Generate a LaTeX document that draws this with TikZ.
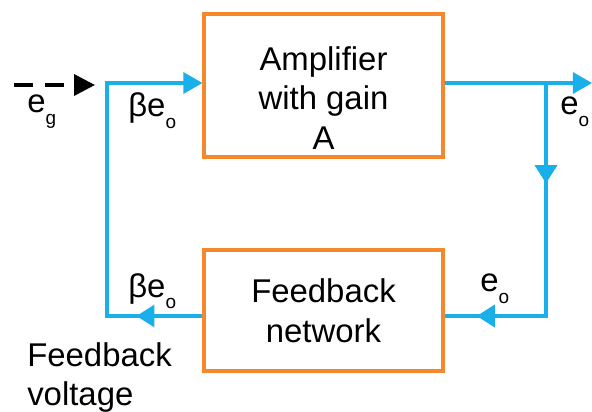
\documentclass[tikz,border=0pt]{standalone}
\usepackage{fontspec}
\setmainfont{Liberation Sans}
\usetikzlibrary{arrows.meta,decorations.markings}

\definecolor{boxorange}{RGB}{245,135,45}
\definecolor{loopblue}{RGB}{25,175,235}

\newcommand{\mainsize}{\fontsize{23.4}{28.1}\selectfont}
\newcommand{\lowidx}[1]{\raisebox{-0.34em}{\fontsize{13.5}{13.5}\selectfont #1}}

\begin{document}
\begin{tikzpicture}[
  x=0.25mm, y=-0.25mm,
  block/.style={rectangle, draw=boxorange, line width=2.2pt,
                minimum width=5.975cm, inner sep=0pt, align=center, font=\mainsize},
  flow/.style={draw=loopblue, line width=2.2pt},
  tip/.style={-{Triangle[length=0.48cm, width=0.53cm]}},
  midarrow/.style={postaction={decorate}, decoration={markings,
                   mark=at position #1 with {\arrow{Triangle[length=0.45cm, width=0.55cm]}}}},
  lbl/.style={inner sep=0pt, font=\mainsize}
]

\useasboundingbox (0,0) rectangle (592,412);

\node[block, minimum height=3.575cm] (amp) at (323.5,85.5) {};
\node[lbl, align=center, anchor=north] (ampText) at (323.5,46) {Amplifier\\with gain\\A};
\node[block, minimum height=3.025cm] (fb) at (323.5,310.5) {Feedback\\network};

\coordinate (src)    at (14,85);
\coordinate (srcTip) at (95,85);
\coordinate (loopTL) at (107,83);
\coordinate (loopBL) at (107,316);
\coordinate (tap)    at (546,83);
\coordinate (tapB)   at (546,316);
\coordinate (out)    at (592,83);

% input signal
\draw[-{Triangle[length=0.52cm, width=0.52cm]}, line width=2.6pt,
      dash pattern=on 0.48cm off 0.3cm] (src) -- (srcTip);

% feedback path back to the amplifier input
\draw[flow, tip, midarrow=1.65cm] (fb.west |- loopBL) -- (loopBL) -- (loopTL) -- (amp.west |- loopTL);

% output and tap to the feedback network
\draw[flow, tip] (amp.east |- tap) -- (out);
\draw[flow, midarrow=2.5cm, midarrow=7.55cm] (tap) -- (tapB) -- (fb.east |- tapB);

\node[lbl, anchor=base west] (egLbl) at (27,113) {e\lowidx{g}};
\node[lbl, anchor=base west] (betaTop) at (128,117) {βe\lowidx{o}};
\node[lbl, anchor=base west] (eoTop) at (560,115) {e\lowidx{o}};
\node[lbl, anchor=base west] (betaBot) at (128,297) {βe\lowidx{o}};
\node[lbl, anchor=base west] (eoBot) at (480,292) {e\lowidx{o}};
\node[lbl, align=left, anchor=north west] (fbVolt) at (27,342) {Feedback\\voltage};

\end{tikzpicture}
\end{document}
